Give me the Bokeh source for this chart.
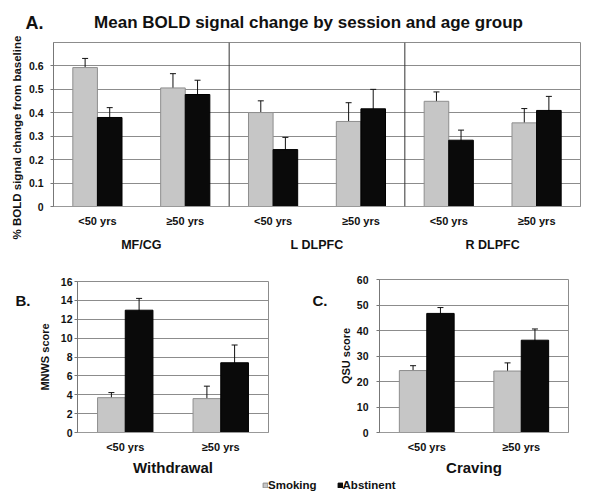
from math import pi
from bokeh.plotting import figure
from bokeh.models import (ColumnDataSource, FactorRange, Range1d, Whisker, TeeHead, Span, Label,
                          NumeralTickFormatter, SingleIntervalTicker, Legend, LegendItem)
from bokeh.transform import dodge
from bokeh.layouts import column, row
from bokeh.embed import file_html
from bokeh.resources import INLINE

# ---------------- data ----------------
regions = ["MF/CG", "L DLPFC", "R DLPFC"]
ages = ["<50 yrs", "≥50 yrs"]
sessions = ["Smoking", "Abstinent"]
title_a = "Mean BOLD signal change by session and age group"
ylabel_a = "% BOLD signal change from baseline"
panel_tags = ["A.", "B.", "C."]

# Panel A: % BOLD signal change (order: MF/CG <50, >=50, L DLPFC <50, >=50, R DLPFC <50, >=50)
bold_smoking = [0.593, 0.506, 0.401, 0.363, 0.449, 0.357]
bold_smoking_err = [0.039, 0.061, 0.050, 0.080, 0.040, 0.061]
bold_abstinent = [0.380, 0.478, 0.243, 0.417, 0.283, 0.410]
bold_abstinent_err = [0.042, 0.061, 0.052, 0.083, 0.043, 0.060]

# Panel B: MNWS score
mnws_smoking = [3.69, 3.59]
mnws_smoking_err = [0.54, 1.32]
mnws_abstinent = [12.96, 7.39]
mnws_abstinent_err = [1.25, 1.88]

# Panel C: QSU score
qsu_smoking = [24.3, 24.1]
qsu_smoking_err = [1.9, 3.2]
qsu_abstinent = [46.7, 36.2]
qsu_abstinent_err = [2.3, 4.4]

FONT = "Liberation Sans"
SMOKE_FILL = "#c6c6c6"
SMOKE_LINE = "#8e8e8e"
ABST_FILL = "#0a0a0a"
ABST_LINE = "#000000"
GRID = "#8c8c8c"
TXT = "#111111"


def make_source(x, s, se, a, ae):
    return ColumnDataSource(dict(
        x=x, smoking=s, abstinent=a,
        smoking_hi=[v + e for v, e in zip(s, se)], smoking_lo=[v - e for v, e in zip(s, se)],
        abstinent_hi=[v + e for v, e in zip(a, ae)], abstinent_lo=[v - e for v, e in zip(a, ae)],
    ))


def style(p, ylabel, interval, tick_standoff, label_standoff):
    p.outline_line_color = GRID
    p.xgrid.grid_line_color = None
    p.ygrid.grid_line_color = GRID
    p.ygrid.grid_line_width = 1
    p.yaxis.ticker = SingleIntervalTicker(interval=interval, num_minor_ticks=0)
    if ylabel:
        p.yaxis.axis_label = ylabel
    p.yaxis.axis_label_text_font = FONT
    p.yaxis.axis_label_text_font_style = "bold"
    p.yaxis.axis_label_text_font_size = "11px"
    p.yaxis.axis_label_text_color = TXT
    p.yaxis.axis_label_standoff = label_standoff
    p.yaxis.major_label_text_font = FONT
    p.yaxis.major_label_text_font_style = "bold"
    p.yaxis.major_label_text_font_size = "10.5px"
    p.yaxis.major_label_text_color = TXT
    p.yaxis.major_label_standoff = tick_standoff
    p.yaxis.major_tick_out = 3
    p.yaxis.major_tick_in = 0
    p.yaxis.major_tick_line_color = "#777777"
    p.yaxis.minor_tick_line_color = None
    p.yaxis.axis_line_color = "#777777"
    p.xaxis.axis_line_color = "#999999"
    p.xaxis.major_tick_line_color = None
    p.xaxis.major_tick_out = 0
    p.xaxis.major_tick_in = 0
    p.xaxis.minor_tick_line_color = None
    p.xaxis.major_label_text_font = FONT
    p.xaxis.major_label_text_font_style = "bold"
    p.xaxis.major_label_text_font_size = "11px"
    p.xaxis.major_label_text_color = TXT
    p.xaxis.major_label_standoff = 8


def add_bars(p, src, bar_w):
    off = bar_w / 2
    p.vbar(x=dodge("x", -off, range=p.x_range), top="smoking", width=bar_w, source=src,
           fill_color=SMOKE_FILL, line_color=SMOKE_LINE, line_width=1)
    p.vbar(x=dodge("x", off, range=p.x_range), top="abstinent", width=bar_w, source=src,
           fill_color=ABST_FILL, line_color=ABST_LINE, line_width=1)
    for col, sign in (("smoking", -1), ("abstinent", 1)):
        w = Whisker(source=src, base=dodge("x", sign * off, range=p.x_range),
                    upper=col + "_hi", lower=col + "_lo", line_color=TXT, line_width=1,
                    upper_head=TeeHead(size=6, line_color=TXT, line_width=1),
                    lower_head=TeeHead(size=6, line_color=TXT, line_width=1))
        p.add_layout(w)


def strip(w, h):
    """A plain canvas whose frame fills it, used for free text placed in pixel units."""
    s = figure(width=w, height=h, output_backend="svg", toolbar_location=None,
               x_range=Range1d(0, w), y_range=Range1d(0, h),
               x_axis_type=None, y_axis_type=None,
               min_border_left=0, min_border_right=0, min_border_top=0, min_border_bottom=0)
    s.grid.visible = False
    s.outline_line_color = None
    s.frame_align = False
    return s


def text(s, t, x, y, size, align="left", angle=0.0):
    s.add_layout(Label(x=x, y=y, text=t, text_font=FONT, text_font_style="bold",
                       text_font_size=size, text_align=align, text_baseline="middle",
                       text_color=TXT, angle=angle))


# ---------------- title strip ----------------
sT = strip(600, 34)
text(sT, panel_tags[0], 25, 12, "18px")
text(sT, title_a, 308, 12, "17px", align="center")

# ---------------- Panel A ----------------
sY = strip(25, 228)
text(sY, ylabel_a, 16, 125, "11.5px", align="center", angle=pi / 2)

factors_a = [(r, a) for r in regions for a in ages]
src_a = make_source(factors_a, bold_smoking, bold_smoking_err, bold_abstinent, bold_abstinent_err)
pA = figure(width=575, height=228, output_backend="svg", toolbar_location=None,
            x_range=FactorRange(*factors_a, range_padding=0, group_padding=0, factor_padding=0),
            y_range=Range1d(0, 0.7),
            min_border_left=25, min_border_right=20, min_border_top=8, min_border_bottom=56)
pA.frame_align = False
style(pA, None, 0.1, 7, 6)
pA.yaxis.formatter = NumeralTickFormatter(format="0.[0]")
pA.xaxis.group_text_font = FONT
pA.xaxis.group_text_font_style = "bold"
pA.xaxis.group_text_font_size = "12.5px"
pA.xaxis.group_text_color = TXT
pA.xaxis.separator_line_alpha = 0
add_bars(pA, src_a, 0.28)
for i in range(1, len(regions)):
    pA.add_layout(Span(location=i * len(ages), dimension="height", line_color="#333333", line_width=1))

# ---------------- Panel B ----------------
sB = strip(35, 216)
text(sB, panel_tags[1], 15, 178, "15px")

src_b = make_source(ages, mnws_smoking, mnws_smoking_err, mnws_abstinent, mnws_abstinent_err)
pB = figure(width=265, height=216, output_backend="svg", toolbar_location=None,
            x_range=FactorRange(*ages, range_padding=0), y_range=Range1d(0, 16),
            min_border_left=42, min_border_right=32, min_border_top=19, min_border_bottom=44)
pB.frame_align = False
style(pB, "MNWS score", 2, 2, 7)
pB.xaxis.axis_label = "Withdrawal"
add_bars(pB, src_b, 0.29)

# ---------------- Panel C ----------------
sC = strip(36, 216)
text(sC, panel_tags[2], 12, 178, "15px")

src_c = make_source(ages, qsu_smoking, qsu_smoking_err, qsu_abstinent, qsu_abstinent_err)
pC = figure(width=264, height=216, output_backend="svg", toolbar_location=None,
            x_range=FactorRange(*ages, range_padding=0), y_range=Range1d(0, 60),
            min_border_left=41, min_border_right=32, min_border_top=17, min_border_bottom=41)
pC.frame_align = False
style(pC, "QSU score", 10, 8, 2)
pC.xaxis.axis_label = "Craving"
add_bars(pC, src_c, 0.29)

for p in (pB, pC):
    p.xaxis.axis_label_text_font = FONT
    p.xaxis.axis_label_text_font_style = "bold"
    p.xaxis.axis_label_text_font_size = "15px"
    p.xaxis.axis_label_text_color = TXT
    p.xaxis.axis_label_standoff = 3

# ---------------- Legend strip ----------------
# legend-only renderers: their (single) bar lies far outside the strip's visible range
sL = strip(600, 16)
ls = sL.vbar(x=[-5000], top=[-4000], bottom=[-4001], width=1, fill_color=SMOKE_FILL, line_color=SMOKE_LINE)
la = sL.vbar(x=[-5000], top=[-4000], bottom=[-4001], width=1, fill_color=ABST_FILL, line_color=ABST_LINE)
legend = Legend(items=[LegendItem(label=sessions[0], renderers=[ls]),
                       LegendItem(label=sessions[1], renderers=[la])],
                orientation="horizontal", location=(262, 3),
                glyph_width=6, glyph_height=6, label_height=12, label_standoff=0,
                spacing=20, padding=0, margin=0,
                border_line_color=None, background_fill_alpha=0,
                label_text_font=FONT, label_text_font_style="bold",
                label_text_font_size="11.5px", label_text_color=TXT)
sL.add_layout(legend, "center")

layout = column(sT, row(sY, pA), row(sB, pB, sC, pC), sL)
open("out.html", "w").write(file_html(layout, INLINE))
